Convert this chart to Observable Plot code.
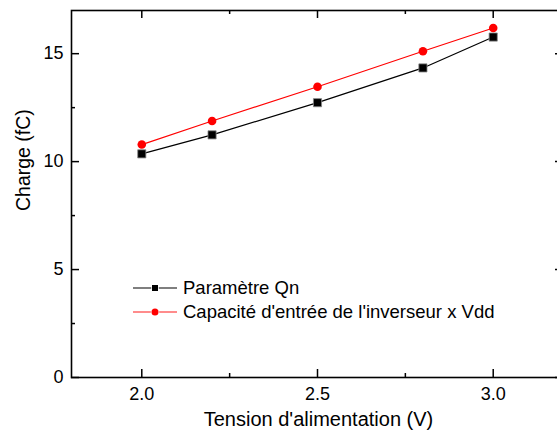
<!DOCTYPE html>
<html><head><meta charset="utf-8">
<script src="https://cdn.jsdelivr.net/npm/d3@7"></script>
<script src="https://cdn.jsdelivr.net/npm/@observablehq/plot@0.6"></script>
<style>
html,body{margin:0;padding:0;overflow:hidden;background:#fff;}
#wrap{position:relative;width:557px;height:439px;overflow:hidden;}
#wrap > svg{max-width:none !important;display:block;}
#legend{position:absolute;left:133px;top:276px;font-family:"Liberation Sans",Arial,sans-serif;font-size:18.5px;color:#000;}
#legend .row{display:flex;align-items:center;height:24px;}
#legend svg{margin-right:6px;}
</style></head><body><div id="wrap"></div>
<script>
const voltages = [2.0, 2.2, 2.5, 2.8, 3.0];
const qn = [10.36, 11.24, 12.73, 14.34, 15.77];
const capVdd = [10.79, 11.88, 13.47, 15.11, 16.19];
const seriesNames = ["Paramètre Qn", "Capacité d'entrée de l'inverseur x Vdd"];
const seriesColors = ["black", "#ff0000"];
const xTickLabels = [2.0, 2.5, 3.0];
const xMinorTicks = [2.25, 2.75];
const yTickLabels = [0, 5, 10, 15];
const yMinorTicks = [2.5, 7.5, 12.5];
const xTitle = "Tension d'alimentation (V)";
const yTitle = "Charge (fC)";

const dataQn = voltages.map((v, i) => ({x: v, y: qn[i]}));
const dataCap = voltages.map((v, i) => ({x: v, y: capVdd[i]}));

const W = 563, H = 439, mL = 71, mR = 0, mT = 10, mB = 62;
const pw = W - mL - mR, ph = H - mT - mB;

const chart = Plot.plot({
  width: W, height: H,
  marginLeft: mL, marginRight: mR, marginTop: mT, marginBottom: mB,
  style: {fontFamily: "'Liberation Sans', Arial, sans-serif", fontSize: "18px", color: "black", background: "white", maxWidth: "none"},
  x: {domain: [1.8, 3.2]},
  y: {domain: [0, 17]},
  marks: [
    Plot.axisX({ticks: xTickLabels, tickSize: 0, tickPadding: 10, tickFormat: d3.format(".1f"), label: null}),
    Plot.axisY({ticks: yTickLabels, tickSize: 0, tickPadding: 8, label: null}),
    // ticks pointing inward
    Plot.tickX(xTickLabels, {x: d => d, insetTop: ph - 8, stroke: "black", strokeWidth: 1.5}),
    Plot.tickX(xTickLabels, {x: d => d, insetBottom: ph - 8, stroke: "black", strokeWidth: 1.5}),
    Plot.tickX(xMinorTicks, {x: d => d, insetTop: ph - 4, stroke: "black", strokeWidth: 1.5}),
    Plot.tickX(xMinorTicks, {x: d => d, insetBottom: ph - 4, stroke: "black", strokeWidth: 1.5}),
    Plot.tickY(yTickLabels, {y: d => d, insetRight: pw - 8, stroke: "black", strokeWidth: 1.5}),
    Plot.tickY(yTickLabels, {y: d => d, insetLeft: pw - 8, stroke: "black", strokeWidth: 1.5}),
    Plot.tickY(yMinorTicks, {y: d => d, insetRight: pw - 4, stroke: "black", strokeWidth: 1.5}),
    Plot.tickY(yMinorTicks, {y: d => d, insetLeft: pw - 4, stroke: "black", strokeWidth: 1.5}),
    Plot.frame({stroke: "black", strokeWidth: 1.6}),
    Plot.line(dataQn, {x: "x", y: "y", stroke: seriesColors[0], strokeWidth: 1.2}),
    Plot.line(dataCap, {x: "x", y: "y", stroke: seriesColors[1], strokeWidth: 1.2}),
    Plot.dot(dataQn, {x: "x", y: "y", symbol: "square", r: 4.6, fill: "black", stroke: "#888", strokeWidth: 0.8}),
    Plot.dot(dataCap, {x: "x", y: "y", symbol: "circle", r: 4.3, fill: "#ff0000", stroke: "none"}),
    Plot.text([xTitle], {frameAnchor: "bottom", text: d => d, dy: 48, dx: 1, fontSize: 20}),
    Plot.text([yTitle], {frameAnchor: "left", text: d => d, rotate: -90, dx: -48, dy: 17, fontSize: 19.5})
  ]
});
const wrap = document.getElementById("wrap");
wrap.appendChild(chart);

// legend (inside plot area)
const legend = document.createElement("div");
legend.id = "legend";
seriesNames.forEach((name, i) => {
  const row = document.createElement("div");
  row.className = "row";
  const sw = d3.create("svg").attr("width", 44).attr("height", 24);
  sw.append("line").attr("x1", 0).attr("x2", 44).attr("y1", 12).attr("y2", 12)
    .attr("stroke", i === 0 ? "#555" : "#f66").attr("stroke-width", 1.3);
  if (i === 0) sw.append("rect").attr("x", 19).attr("y", 9).attr("width", 6).attr("height", 6).attr("fill", "black").attr("stroke", "white").attr("stroke-width", 1.5).attr("paint-order", "stroke");
  else sw.append("circle").attr("cx", 22).attr("cy", 12).attr("r", 3.5).attr("fill", "#ff0000").attr("stroke", "white").attr("stroke-width", 1.5).attr("paint-order", "stroke");
  row.appendChild(sw.node());
  const t = document.createElement("span");
  t.textContent = name;
  row.appendChild(t);
  legend.appendChild(row);
});
wrap.appendChild(legend);
</script></body></html>
